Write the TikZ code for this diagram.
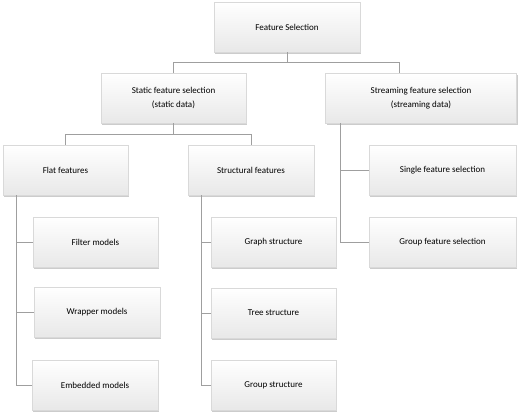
\documentclass[tikz,border=0pt]{standalone}
\usepackage{fontspec}
\setmainfont{Carlito}
\usetikzlibrary{positioning, shadows}

\begin{document}
\begin{tikzpicture}[
    x=1pt, y=-1pt,
    fbox/.style={rectangle, draw=gray!30, top color=white, middle color=white, bottom color=gray!18,
        minimum height=50pt, inner sep=0pt, align=center,
        drop shadow={shadow xshift=1.2pt, shadow yshift=-1.5pt, opacity=0.4}},
    link/.style={draw=gray!75, line width=0.6pt},
    every node/.append style={font=\fontsize{9}{14}\selectfont, text=black}
]
    \useasboundingbox (0,0) rectangle (520,415);

    % Top level
    \node[fbox, minimum width=146pt] at (287,27) (fs) {Feature Selection};

    % Second level
    \node[fbox, minimum width=145pt] at (173.5,98) (static) {Static feature selection\\(static data)};
    \node[fbox, minimum width=191pt] at (421,98) (stream) {Streaming feature selection\\(streaming data)};

    % Third level
    \node[fbox, minimum width=125pt] at (65.5,170) (flat) {Flat features};
    \node[fbox, minimum width=126pt] at (251,170) (struct) {Structural features};
    \node[fbox, minimum width=147pt] at (442.5,170) (single) {Single feature selection};
    \node[fbox, minimum width=147pt] at (442.5,242) (group) {Group feature selection};

    % Leaves
    \node[fbox, minimum width=125pt] at (95.5,242) (filter) {Filter models};
    \node[fbox, minimum width=126pt] at (97,312) (wrapper) {Wrapper models};
    \node[fbox, minimum width=126pt] at (95,385) (embed) {Embedded models};
    \node[fbox, minimum width=125pt] at (273.5,242) (graph) {Graph structure};
    \node[fbox, minimum width=125pt] at (273.5,313) (tree) {Tree structure};
    \node[fbox, minimum width=125pt] at (273.5,385) (gstruct) {Group structure};

    % Connections
    \coordinate (stream top) at ([xshift=-22pt]stream.north);
    \draw[link] (fs.south) -- ++(0,10) -| (static.north);
    \draw[link] (fs.south) -- ++(0,10) -| (stream top);
    \draw[link] (static.south) -- ++(0,11) -| (flat.north);
    \draw[link] (static.south) -- ++(0,11) -| (struct.north);

    \draw[link] ([xshift=15pt]stream.south west) |- (single.west);
    \draw[link] ([xshift=15pt]stream.south west) |- (group.west);

    \foreach \leaf in {filter, wrapper, embed} {
        \draw[link] ([xshift=13pt]flat.south west) |- (\leaf.west);
    }
    \foreach \leaf in {graph, tree, gstruct} {
        \draw[link] ([xshift=13pt]struct.south west) |- (\leaf.west);
    }

\end{tikzpicture}
\end{document}
